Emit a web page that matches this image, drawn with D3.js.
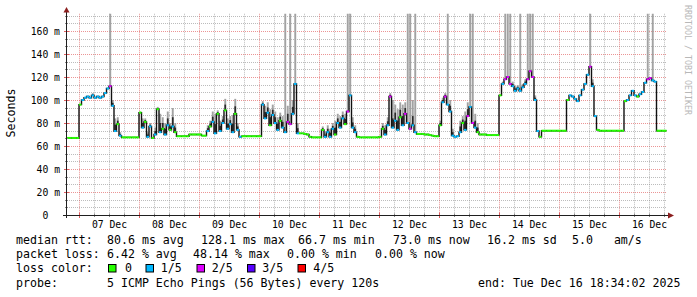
<!DOCTYPE html>
<html><head><meta charset="utf-8">
<script src="https://cdn.jsdelivr.net/npm/d3@7"></script>
<style>
html,body{margin:0;padding:0;background:#fff;}
svg{display:block;}
text{font-family:"DejaVu Sans Mono",monospace;}
</style></head><body>
<svg id="c" width="697" height="297"></svg>
<script>
// ---- data (hourly samples starting Dec 6 19:00) ----
const startTime = Date.UTC(2025, 11, 6, 19, 0, 0);
const stepHours = 1;
const median = [
 67,67,67,67,67,
 96,100,102,103,102,104,102,103,102,103,106,110,112,95,73,79,69,67.5,67.5,67.5,67.5,67.5,67.5,67.5,
 89,76,81,68,77,67,70,92,72,75,70,78,74,77,72,68.5,68.5,68.5,68.5,68.5,70,70,70,70,
 70,69,69,73,77,81,71,88,73,80,91,75,79,72,88,74,68,68.5,68.5,68.5,68.5,68.5,68.5,68.5,
 68.5,96,84,89,78,87,80,74,82,76,72,81,79,88,114,71,71,71,70.5,70,68,67.5,67.5,67.5,
 67.5,74,68,72,68,75,70,80,76,84,79,90,104,76,72,68,67.5,67.5,67.5,67.5,67.5,67.5,67.5,67.5,
 68,75,70,78,103,76,82,74,85,78,88,80,75,78,72,70.5,70.5,70.5,70,70,69.5,69,68.5,68.5,
 78,98,103,96,90,69,68,68.5,72,80,74,86,94,80,76,72,70,70,70,69.5,69.5,69.5,69.5,69.5,
 104,114,118,120,114,112,108,110,108,111,114,118,125,120,100,73,68,73.3,73.3,73.3,73.3,73.3,73.3,73.3,
 73.3,73.3,73.3,100,104,103,101,99,104,109,114,122,129,112,86,74,73.3,73.3,73.3,73.3,73.3,73.3,73.3,73.3,
 73.3,73.3,99,100,104,108,104,103,105,107,115,118,119,117,116,73.3,73.3,73.3,73.3
];
const loss = [
 0,0,0,0,0,
 0,1,1,1,1,1,1,1,1,1,1,1,2,1,1,0,1,0,0,0,0,0,0,0,
 0,1,0,1,1,0,1,0,1,0,1,1,0,1,0,0,0,0,0,0,0,0,0,0,
 0,0,0,1,0,1,1,0,1,1,0,1,1,1,0,1,1,0,0,0,0,0,0,0,
 0,1,1,1,0,1,1,1,0,1,1,2,2,1,1,1,0,0,0,0,0,0,0,0,
 0,0,1,1,1,1,0,1,1,1,0,2,1,1,1,0,0,0,0,0,0,0,0,0,
 0,0,1,1,2,1,1,1,0,1,2,1,2,1,1,0,0,0,0,0,0,0,0,0,
 0,1,2,1,1,1,1,1,1,0,1,2,1,2,1,0,0,0,0,0,0,0,0,0,
 0,1,2,2,2,1,1,1,1,1,1,2,2,2,1,1,0,0,0,0,0,0,0,0,
 0,0,0,0,1,1,1,1,1,1,1,1,2,1,1,0,0,0,0,0,0,0,0,0,
 0,0,0,1,1,1,1,0,1,1,1,2,2,1,1,0,0,0,0
];
const smokeHi = [
 0,0,0,0,0,
 0,0,0,0,0,106,0,0,0,0,0,0,175,100,84,85,72,0,0,0,0,0,0,0,
 90,84,84,72,80,0,76,94,88,85,80,90,80,93,80,0,0,0,0,0,0,0,0,0,
 0,0,0,78,82,90,88,91,82,86,101,84,86,87,101,80,0,0,0,0,0,0,0,0,
 0,99,95,98,92,96,90,85,89,86,175,95,175,100,175,80,0,0,0,0,0,0,0,0,
 0,77,72,78,75,80,82,88,86,90,88,175,175,85,78,0,0,0,0,0,0,0,0,0,
 0,80,78,85,106,100,96,92,98,96,98,175,175,100,175,0,0,0,0,0,0,0,0,0,
 82,102,106,175,100,75,0,0,82,86,90,98,175,175,88,80,0,0,0,0,0,0,0,0,
 0,116,175,175,175,116,112,113,175,114,118,175,175,175,104,0,0,0,0,0,0,0,0,0,
 0,0,0,0,0,0,0,0,0,0,0,0,175,118,0,0,0,0,0,0,0,0,0,0,
 0,0,0,0,0,0,0,0,0,0,0,175,0,175,0,0,0,0,0
];
const dayLabels = ["07 Dec","08 Dec","09 Dec","10 Dec","11 Dec","12 Dec","13 Dec","14 Dec","15 Dec","16 Dec"];
const yTickValues = [0,20,40,60,80,100,120,140,160];
const lossLabels = ["0","1/5","2/5","3/5","4/5"];
const lossColors = ["#26ff00","#00b8ff","#dd00ff","#5600ff","#ff0000"];
const rttLegend = ["median rtt:","80.6 ms avg","128.1 ms max","66.7 ms min","73.0 ms now","16.2 ms sd","5.0   am/s"];
const lossLegend = ["packet loss:","6.42 % avg","48.14 % max","0.00 % min","0.00 % now"];
const probeLegend = ["probe:","5 ICMP Echo Pings (56 Bytes) every 120s"];
const endLabel = "end: Tue Dec 16 18:34:02 2025";
const yAxisTitle = "Seconds";
const watermark = "RRDTOOL / TOBI OETIKER";

// ---- layout ----
const PL = 67, PR = 667, PT = 13.75, PB = 215;
const svg = d3.select('#c');
const xScale = d3.scaleUtc()
  .domain([new Date(Date.UTC(2025,11,6,19,12)), new Date(Date.UTC(2025,11,16,19,12))])
  .range([PL, PR]);
const yScale = d3.scaleLinear().domain([0, 175]).range([PB, PT]);

const samples = median.map((m, i) => ({
  t0: new Date(startTime + i*stepHours*3600e3),
  t1: new Date(startTime + (i+1)*stepHours*3600e3),
  m, loss: loss[i], hi: smokeHi[i]
}));

svg.append('defs').append('clipPath').attr('id','plot')
  .append('rect').attr('x',PL).attr('y',PT-2).attr('width',PR-PL).attr('height',PB-PT+2);

// ---- grid ----
const grid = svg.append('g');
const minorStep = 20/3;
const hVals = d3.range(1, Math.floor(175/minorStep)+1).map(k => k*minorStep);
hVals.forEach((v, k) => {
  const major = (k+1) % 3 === 0;
  const y = Math.round(yScale(v)) + 0.5;
  grid.append('line').attr('x1',PL).attr('x2',PR).attr('y1',y).attr('y2',y)
    .attr('stroke', major ? 'rgba(222,79,79,0.6)' : 'rgba(143,143,143,0.6)')
    .attr('stroke-width',1).attr('stroke-dasharray','1,1');
});
const dom = xScale.domain();
d3.utcHour.every(6).range(dom[0], dom[1]).forEach(t => {
  const major = t.getUTCHours() === 0;
  const x = Math.round(xScale(t)) + 0.5;
  grid.append('line').attr('x1',x).attr('x2',x).attr('y1',PT).attr('y2',PB)
    .attr('stroke', major ? 'rgba(222,79,79,0.6)' : 'rgba(143,143,143,0.6)')
    .attr('stroke-width',1).attr('stroke-dasharray','1,1');
});

// ---- smoke ----
const plot = svg.append('g').attr('clip-path','url(#plot)');
const smoky = samples.filter(d => d.hi > d.m);
plot.append('g').selectAll('rect').data(smoky).join('rect')
  .attr('x', d => xScale(d.t0) + 0.3).attr('width', d => xScale(d.t1) - xScale(d.t0) - 0.6)
  .attr('y', d => yScale(d.hi)).attr('height', d => yScale(d.m) - yScale(d.hi))
  .attr('fill', '#a2a2a2');
// inner (darker) smoke close to the median, only for moderate spreads
const inner = d => d.hi >= 150 ? 0 : Math.min((d.hi - d.m) * 0.5, 8);
plot.append('g').selectAll('rect').data(smoky.filter(d => inner(d) > 0)).join('rect')
  .attr('x', d => xScale(d.t0) + 0.4).attr('width', d => xScale(d.t1) - xScale(d.t0) - 0.8)
  .attr('y', d => yScale(d.m + inner(d)))
  .attr('height', d => yScale(d.m) - yScale(d.m + inner(d)))
  .attr('fill', '#2a2a2a');

// ---- median line ----
const pts = samples.map(d => [d.t0, d.m]);
pts.push([samples[samples.length-1].t1, samples[samples.length-1].m]);
plot.append('path').datum(pts)
  .attr('d', d3.line().x(d => xScale(d[0])).y(d => yScale(d[1])).curve(d3.curveStepAfter))
  .attr('fill','none').attr('stroke','#111').attr('stroke-width',1.4);

// loss-coloured median
plot.append('g').selectAll('rect').data(samples).join('rect')
  .attr('x', d => xScale(d.t0)).attr('width', d => xScale(d.t1) - xScale(d.t0))
  .attr('y', d => yScale(d.m) - 1).attr('height', 2)
  .attr('fill', d => lossColors[d.loss]);

// ---- axes ----
const ax = svg.append('g');
hVals.forEach((v, k) => {
  const major = (k+1) % 3 === 0;
  const y = Math.round(yScale(v)) + 0.5;
  ax.append('line').attr('x1', major ? 64 : 65).attr('x2', major ? 69 : 68).attr('y1',y).attr('y2',y)
    .attr('stroke', major ? 'rgba(222,79,79,0.9)' : '#888');
});
d3.utcHour.every(6).range(dom[0], dom[1]).forEach(t => {
  const major = t.getUTCHours() === 0;
  const x = Math.round(xScale(t)) + 0.5;
  ax.append('line').attr('x1',x).attr('x2',x).attr('y1', major ? 212.5 : 213.5).attr('y2', major ? 218 : 217)
    .attr('stroke', major ? 'rgba(222,79,79,0.9)' : '#888');
});
ax.append('line').attr('x1',66.5).attr('x2',66.5).attr('y1',218).attr('y2',12).attr('stroke','#1f1f1f');
ax.append('line').attr('x1',63).attr('x2',668).attr('y1',215.5).attr('y2',215.5).attr('stroke','#1f1f1f');
ax.append('path').attr('d','M63.5,12.5L69.5,12.5L66.5,7Z').attr('fill','#8b1f1f');
ax.append('path').attr('d','M668,212.5L668,218.5L674,215.5Z').attr('fill','#8b1f1f');

// y labels
const yAxis = d3.axisLeft(yScale).tickValues(yTickValues).tickSize(0).tickPadding(7)
  .tickFormat(v => v === 0 ? "0" : v + " m");
const yg = svg.append('g').attr('transform',`translate(${PL},0)`).call(yAxis);
yg.select('.domain').remove();
yg.selectAll('text').attr('font-family','DejaVu Sans Mono').attr('font-size',9.75).attr('fill','#000')
  .attr('dx', d => d === 0 ? -11.7 : 0);

// x labels at noon
const noons = d3.utcDay.range(new Date(Date.UTC(2025,11,7)), new Date(Date.UTC(2025,11,17)))
  .map(d => new Date(+d + 12*3600e3));
const xAxis = d3.axisBottom(xScale).tickValues(noons).tickSize(0).tickPadding(6)
  .tickFormat((d, i) => dayLabels[i]);
const xg = svg.append('g').attr('transform',`translate(0,${PB})`).call(xAxis);
xg.select('.domain').remove();
xg.selectAll('text').attr('font-family','DejaVu Sans Mono').attr('font-size',9.75).attr('fill','#000');

// titles
svg.append('text').attr('transform','translate(15,113) rotate(-90)').attr('text-anchor','middle')
  .attr('font-size',11.6).attr('fill','#000').text(yAxisTitle);
svg.append('text').attr('transform','translate(685,5) rotate(90)').attr('text-anchor','start')
  .attr('font-size',8.3).attr('fill','#b8b8b8').text(watermark);

// ---- legend ----
const leg = svg.append('g').attr('font-size',11.6).attr('fill','#000');
const rttX = [16,107,201,298,393,487,572];
rttLegend.forEach((s,i) => leg.append('text').attr('x',rttX[i]).attr('y',244.3).style('white-space','pre').text(s));
const lossX = [16,107,193,287,375];
lossLegend.forEach((s,i) => leg.append('text').attr('x',lossX[i]).attr('y',258.3).style('white-space','pre').text(s));
leg.append('text').attr('x',16).attr('y',272.3).text('loss color:');
const boxX = [108.5,146,197,247.5,298];
const lblX = [125,160.7,211.7,262.3,313.3];
lossLabels.forEach((s,i) => {
  leg.append('rect').attr('x',boxX[i]).attr('y',264.5).attr('width',7.5).attr('height',7.5)
    .attr('fill',lossColors[i]).attr('stroke','#000').attr('stroke-width',1);
  leg.append('text').attr('x',lblX[i]).attr('y',272.3).text(s);
});
const probeX = [16,107];
probeLegend.forEach((s,i) => leg.append('text').attr('x',probeX[i]).attr('y',286.5).text(s));
leg.append('text').attr('x',478).attr('y',286.5).text(endLabel);
</script>
</body></html>
